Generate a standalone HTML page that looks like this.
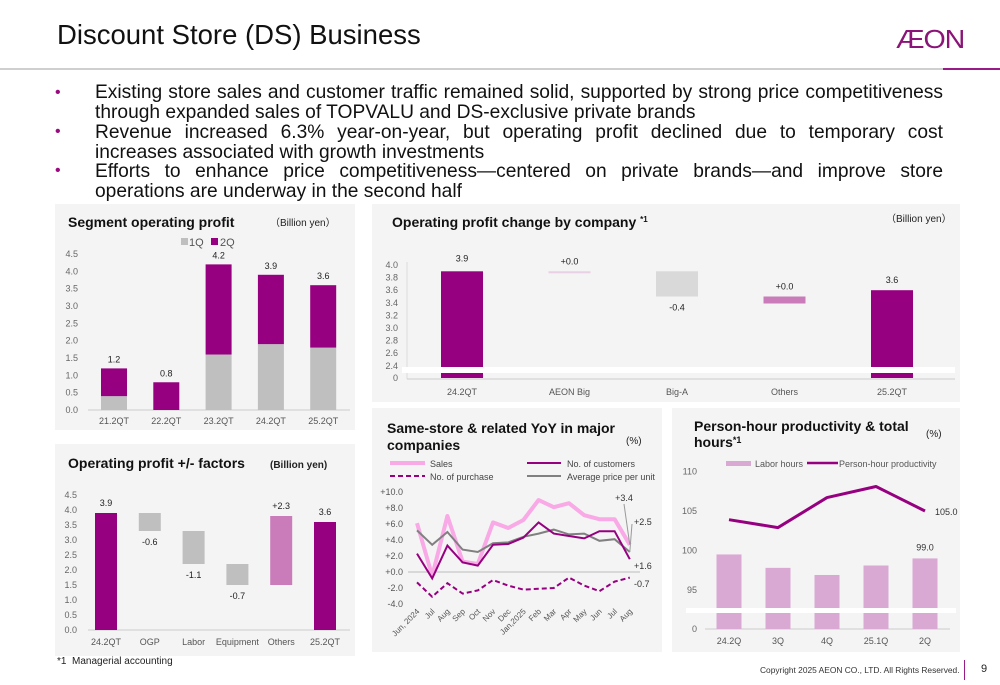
<!DOCTYPE html>
<html><head><meta charset="utf-8">
<style>
body{margin:0;width:1000px;height:685px;background:#fff;font-family:"Liberation Sans",Arial,sans-serif;position:relative;overflow:hidden}
.abs{position:absolute}
.panel{position:absolute;background:#f4f4f4}
.bl{position:absolute;left:95px;width:848px;font-size:19.2px;line-height:19.5px;color:#111;text-align:justify;text-align-last:left}
.dot{position:absolute;left:55px;color:#9a0a7e;font-size:16px}
svg text{font-family:"Liberation Sans",Arial,sans-serif}
</style></head><body>
<div class="abs" style="left:57px;top:19px;font-size:27.5px;color:#111">Discount Store (DS) Business</div>
<div class="abs" style="left:896px;top:24px;font-size:26px;color:#8a1477;letter-spacing:-1px;transform:scaleX(1.1);transform-origin:left">ÆON</div>
<div class="abs" style="left:0;top:68px;width:943px;height:2px;background:#cfcfcf"></div>
<div class="abs" style="left:943px;top:68px;width:57px;height:2px;background:#9a1a88"></div>

<div class="dot" style="top:84px">•</div>
<div class="bl" style="top:83px">Existing store sales and customer traffic remained solid, supported by strong price competitiveness through expanded sales of TOPVALU and DS-exclusive private brands</div>
<div class="dot" style="top:123px">•</div>
<div class="bl" style="top:123px">Revenue increased 6.3% year-on-year, but operating profit declined due to temporary cost increases associated with growth investments</div>
<div class="dot" style="top:162px">•</div>
<div class="bl" style="top:162px">Efforts to enhance price competitiveness—centered on private brands—and improve store operations are underway in the second half</div>

<div class="panel" style="left:55px;top:204px;width:300px;height:226px"></div>
<div class="panel" style="left:372px;top:204px;width:588px;height:198px"></div>
<div class="panel" style="left:55px;top:444px;width:300px;height:212px"></div>
<div class="panel" style="left:372px;top:408px;width:290px;height:244px"></div>
<div class="panel" style="left:672px;top:408px;width:288px;height:244px"></div>

<svg id="c" class="abs" style="left:0;top:0" width="1000" height="685">
<text x="68" y="227" font-size="14" font-weight="bold" fill="#111">Segment operating profit</text>
<text x="270" y="226" font-size="10" fill="#222">（Billion yen）</text>
<rect x="181" y="238" width="7" height="7" fill="#bfbfbf"/>
<text x="189" y="246" font-size="11" fill="#555">1Q</text>
<rect x="211" y="238" width="7" height="7" fill="#960080"/>
<text x="220" y="246" font-size="11" fill="#555">2Q</text>

<text x="392" y="227" font-size="14" font-weight="bold" fill="#111">Operating profit change by company <tspan font-size="8" dy="-5">*1</tspan></text>
<text x="886" y="222" font-size="10" fill="#222">（Billion yen）</text>

<text x="68" y="468" font-size="14" font-weight="bold" fill="#111">Operating profit +/- factors</text>
<text x="270" y="468" font-size="10" font-weight="bold" fill="#222">(Billion yen)</text>

<text x="387" y="433" font-size="14" font-weight="bold" fill="#111">Same-store &amp; related YoY in major</text>
<text x="387" y="450" font-size="14" font-weight="bold" fill="#111">companies</text>
<text x="626" y="444" font-size="10" fill="#222">(%)</text>
<line x1="390" y1="463" x2="425" y2="463" stroke="#f8a9e6" stroke-width="4"/>
<text x="430" y="467" font-size="9" fill="#444">Sales</text>
<line x1="527" y1="463" x2="561" y2="463" stroke="#960080" stroke-width="2"/>
<text x="567" y="467" font-size="9" fill="#444">No. of customers</text>
<line x1="390" y1="476" x2="425" y2="476" stroke="#960080" stroke-width="2" stroke-dasharray="5,3"/>
<text x="430" y="480" font-size="9" fill="#444">No. of purchase</text>
<line x1="527" y1="476" x2="561" y2="476" stroke="#808080" stroke-width="2"/>
<text x="567" y="480" font-size="9" fill="#444">Average price per unit</text>

<text x="694" y="431" font-size="14" font-weight="bold" fill="#111">Person-hour productivity &amp; total</text>
<text x="694" y="447" font-size="14" font-weight="bold" fill="#111">hours<tspan font-size="9" dy="-4">*1</tspan></text>
<text x="926" y="437" font-size="10" fill="#222">(%)</text>
<rect x="726" y="461" width="25" height="5" fill="#d9a9d3"/>
<text x="755" y="467" font-size="9" fill="#555">Labor hours</text>
<line x1="807" y1="463" x2="838" y2="463" stroke="#960080" stroke-width="2.5"/>
<text x="839" y="467" font-size="9" fill="#555">Person-hour productivity</text>
</svg>

<div class="abs" style="left:57px;top:656px;font-size:10px;color:#222">*1&nbsp; Managerial accounting</div>
<div class="abs" style="left:760px;top:665px;font-size:8.4px;color:#333">Copyright 2025 AEON CO., LTD. All Rights Reserved.</div>
<div class="abs" style="left:964px;top:660px;width:1px;height:20px;background:#9a1a88"></div>
<div class="abs" style="left:981px;top:663px;font-size:11px;color:#222">9</div>

<script>
const segCats=["21.2QT","22.2QT","23.2QT","24.2QT","25.2QT"];
const seg1Q=[0.4,0,1.6,1.9,1.8];
const segTotal=[1.2,0.8,4.2,3.9,3.6];
const segTicks=[0,0.5,1,1.5,2,2.5,3,3.5,4,4.5];

const coCats=["24.2QT","AEON Big","Big-A","Others","25.2QT"];
const coStart=[3.9];
const coDelta=[0.0,-0.4,0.0];
const coEnd=[3.6];
const coLabels=["3.9","+0.0","-0.4","+0.0","3.6"];
const coTicks=[2.4,2.6,2.8,3.0,3.2,3.4,3.6,3.8,4.0];

const fCats=["24.2QT","OGP","Labor","Equipment","Others","25.2QT"];
const fStart=[3.9];
const fDelta=[-0.6,-1.1,-0.7,2.3];
const fEnd=[3.6];
const fLabels=["3.9","-0.6","-1.1","-0.7","+2.3","3.6"];
const fTicks=[0,0.5,1,1.5,2,2.5,3,3.5,4,4.5];

const yMonths=["Jun, 2024","Jul","Aug","Sep","Oct","Nov","Dec","Jan,2025","Feb","Mar","Apr","May","Jun","Jul","Aug"];
const ySales=[6.1,-0.5,7.0,1.3,1.0,6.2,5.5,6.5,9.0,8.1,8.6,7.1,6.6,6.6,3.4];
const yCust=[2.3,-0.8,3.3,1.2,0.8,3.4,3.5,4.3,6.2,4.8,4.5,4.2,5.1,5.1,1.6];
const yPurch=[-1.3,-3.1,-1.4,-2.7,-2.3,-1.0,-1.7,-2.2,-2.1,-2.0,-0.7,-1.7,-2.4,-1.2,-0.7];
const yPrice=[5.2,3.4,5.0,2.8,2.5,3.6,3.7,4.4,4.8,5.3,4.7,4.8,3.9,4.1,2.5];
const yTicks=[-4,-2,0,2,4,6,8,10];

const pCats=["24.2Q","3Q","4Q","25.1Q","2Q"];
const pLabor=[99.5,97.8,96.9,98.1,99.0];
const pProd=[103.9,102.9,106.7,108.1,105.0];
const pTicks=[95,100,105,110];

const svg=document.getElementById('c');
const NS='http://www.w3.org/2000/svg';
function mk(tag,a){const e=document.createElementNS(NS,tag);for(const k in a)e.setAttribute(k,a[k]);svg.appendChild(e);return e;}
function tx(x,y,s,size,fill,anchor){const e=mk('text',{x:x,y:y,'font-size':size,fill:fill,'text-anchor':anchor||'middle'});e.textContent=s;return e;}
const PUR='#960080',GR='#bfbfbf',PK='#c97bba';

(function(){
 const y=v=>410-v*34.67, x=i=>114+i*52.3, w=26;
 segTicks.forEach(t=>{const e=tx(78,y(t)+3,t.toFixed(1),9,'#666','end');
 
 });
 const ax=mk('line',{x1:88,y1:410,x2:350,y2:410,stroke:'#ccc'});
 
 
 segCats.forEach((c,i)=>{
  const b1=mk('rect',{x:x(i)-w/2,y:y(seg1Q[i]),width:w,height:410-y(seg1Q[i]),fill:GR});
  
  
  const b2=mk('rect',{x:x(i)-w/2,y:y(segTotal[i]),width:w,height:y(seg1Q[i])-y(segTotal[i]),fill:PUR});
  
  
  const l=tx(x(i),y(segTotal[i])-6,segTotal[i].toFixed(1),9,'#222');
  
  
  const cl=tx(x(i),424,c,9,'#555');
  
  
 });
})();

(function(){
 const y=v=>265+(4.0-v)*63, x=i=>462+i*107.5, w=42, base=378;
 coTicks.forEach(t=>{const e=tx(398,y(t)+3,t.toFixed(1),9,'#666','end');
 
 });
 const z=tx(398,381,'0',9,'#666','end');
 
 
 const va=mk('line',{x1:407,y1:262,x2:407,y2:379,stroke:'#ddd'});
 
 
 const ax=mk('line',{x1:407,y1:379,x2:955,y2:379,stroke:'#ccc'});
 
 
 let cum=coStart[0];
 const s=mk('rect',{x:x(0)-w/2,y:y(coStart[0]),width:w,height:base-y(coStart[0]),fill:PUR});
 
 
 const fills=['#ead0e4','#d9d9d9',PK];
 coDelta.forEach((d,i)=>{
  const a=cum,b=cum+d; cum=b;
  let top=y(Math.max(a,b)),h=Math.abs(y(a)-y(b));
  if(h<2)h=(i==2?7:2);
  const r=mk('rect',{x:x(i+1)-w/2,y:top,width:w,height:h,fill:fills[i]});
  
  
  const ly=d<0?y(b)+14:top-7;
  const l=tx(x(i+1),ly,coLabels[i+1],9,'#222');
  
  
 });
 const e=mk('rect',{x:x(4)-w/2,y:y(coEnd[0]),width:w,height:base-y(coEnd[0]),fill:PUR});
 
 
 const l0=tx(x(0),y(coStart[0])-10,coLabels[0],9,'#222');
 
 
 const l4=tx(x(4),y(coEnd[0])-7,coLabels[4],9,'#222');
 
 
 const br=mk('rect',{x:402,y:367,width:553,height:6,fill:'#fff'});
 
 
 coCats.forEach((c,i)=>{const t=tx(x(i),395,c,9,'#555');
 
 });
})();

(function(){
 const y=v=>630-v*30, x=i=>106+i*43.8, w=22;
 fTicks.forEach(t=>{const e=tx(77,y(t)+3,t.toFixed(1),9,'#666','end');
 
 });
 const ax=mk('line',{x1:88,y1:630,x2:350,y2:630,stroke:'#ccc'});
 
 
 const s=mk('rect',{x:x(0)-w/2,y:y(fStart[0]),width:w,height:630-y(fStart[0]),fill:PUR});
 
 
 const l0=tx(x(0),y(fStart[0])-7,fLabels[0],9,'#222');
 
 
 let cum=fStart[0];
 fDelta.forEach((d,i)=>{
  const a=cum,b=cum+d;cum=b;
  const top=y(Math.max(a,b)),h=Math.abs(y(a)-y(b));
  const r=mk('rect',{x:x(i+1)-w/2,y:top,width:w,height:h,fill:d<0?GR:PK});
  
  
  const l=tx(x(i+1),d<0?y(b)+14:top-7,fLabels[i+1],9,'#222');
  
  
 });
 const e=mk('rect',{x:x(5)-w/2,y:y(fEnd[0]),width:w,height:630-y(fEnd[0]),fill:PUR});
 
 
 const l5=tx(x(5),y(fEnd[0])-7,fLabels[5],9,'#222');
 
 
 fCats.forEach((c,i)=>{const t=tx(x(i),645,c,9,'#555');
 
 });
})();

(function(){
 const y=v=>572-v*8, x=i=>417+i*15.2;
 yTicks.forEach(t=>{const e=tx(403,y(t)+3,(t>=0?'+':'')+t.toFixed(1),9,'#555','end');
 
 });
 const z=mk('line',{x1:408,y1:y(0),x2:640,y2:y(0),stroke:'#bbb'});
 
 
 const pts=a=>a.map((v,i)=>x(i)+','+y(v)).join(' ');
 const s=mk('polyline',{points:pts(ySales),fill:'none',stroke:'#f8a9e6','stroke-width':4,'stroke-linejoin':'round'});
 
 
 const p=mk('polyline',{points:pts(yPrice),fill:'none',stroke:'#808080','stroke-width':2});
 
 
 const c=mk('polyline',{points:pts(yCust),fill:'none',stroke:PUR,'stroke-width':2});
 
 
 const d=mk('polyline',{points:pts(yPurch),fill:'none',stroke:PUR,'stroke-width':2,'stroke-dasharray':'5,3'});
 
 
 const n=yMonths.length-1;
 const a1=mk('line',{x1:x(n),y1:y(ySales[n]),x2:624,y2:504,stroke:'#999'});
 
 
 const a2=mk('line',{x1:x(n),y1:y(yPrice[n]),x2:632,y2:524,stroke:'#999'});
 
 
 const labs=[[ySales[n],624,501],[yPrice[n],634,525],[yCust[n],634,569],[yPurch[n],634,587]];
 labs.forEach(L=>{const t=tx(L[1],L[2],(L[0]>=0?'+':'')+L[0].toFixed(1),9,'#333','start');
 if(L===labs[0])t.setAttribute('text-anchor','middle');
 
 });
 yMonths.forEach((m,i)=>{const t=tx(x(i)+3,612,m,8,'#555','end');
 t.setAttribute('transform','rotate(-45 '+(x(i)+3)+' 612)');
 
 });
})();

(function(){
 const y=v=>590-(v-95)*7.9, x=i=>729+i*49, w=25, base=629;
 pTicks.forEach(t=>{const e=tx(697,y(t)+3,String(t),9,'#666','end');
 
 });
 const z=tx(697,632,'0',9,'#666','end');
 
 
 const ax=mk('line',{x1:705,y1:base,x2:950,y2:base,stroke:'#ccc'});
 
 
 pCats.forEach((c,i)=>{
  const b=mk('rect',{x:x(i)-w/2,y:y(pLabor[i]),width:w,height:base-y(pLabor[i]),fill:'#d9a9d3'});
  
  
  const t=tx(x(i),644,c,9,'#555');
  
  
 });
 const br=mk('rect',{x:686,y:608,width:270,height:5,fill:'#fff'});
 
 
 const l=mk('polyline',{points:pProd.map((v,i)=>x(i)+','+y(v)).join(' '),fill:'none',stroke:PUR,'stroke-width':3,'stroke-linejoin':'round'});
 
 
 const n=pCats.length-1;
 const a=tx(x(n)+10,y(pProd[n])+4,pProd[n].toFixed(1),9,'#333','start');
 
 
 const b=tx(x(n),y(pLabor[n])-8,pLabor[n].toFixed(1),9,'#333');
 
 
})();
</script>
</body></html>
